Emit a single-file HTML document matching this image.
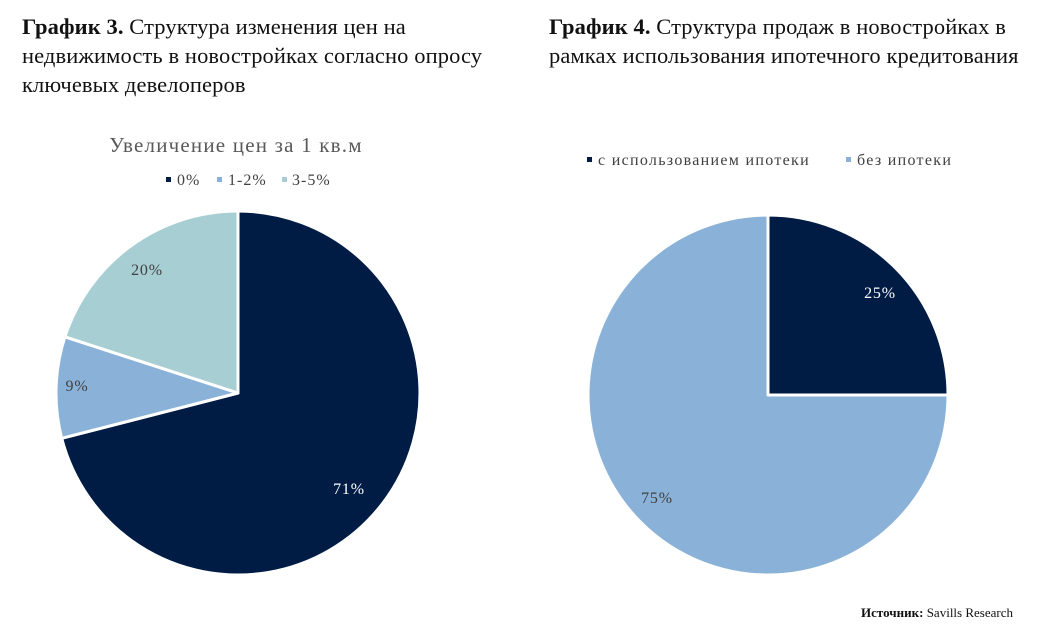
<!DOCTYPE html>
<html><head><meta charset="utf-8"><style>
body{margin:0;background:#fff;width:1043px;height:640px;overflow:hidden;font-family:"Liberation Serif",serif;}
.t{position:absolute;font-size:22.5px;line-height:29px;color:#111;letter-spacing:0.1px}
</style></head><body>
<div class="t" style="left:22px;top:12px;width:510px"><b>График 3.</b> Структура изменения цен на недвижимость в новостройках согласно опросу ключевых девелоперов</div>
<div class="t" style="left:549px;top:12px;width:494px"><b>График 4.</b> Структура продаж в новостройках в рамках использования ипотечного кредитования</div>
<svg width="1043" height="640" style="position:absolute;left:0;top:0" font-family="Liberation Serif, serif">
<text x="236" y="152" font-size="21" letter-spacing="1.2" fill="#595959" text-anchor="middle">Увеличение цен за 1 кв.м</text>
<g font-size="16" fill="#404040" letter-spacing="1">
<rect x="166" y="177" width="5" height="5" fill="#001c44"/><text x="177" y="185">0%</text>
<rect x="217" y="177" width="5" height="5" fill="#8ab2d8"/><text x="228" y="185">1-2%</text>
<rect x="282" y="177" width="5" height="5" fill="#a7cfd3"/><text x="292" y="185">3-5%</text>
</g>
<g stroke="#fff" stroke-width="3" stroke-linejoin="round">
<path d="M238,393 L238,211 A182,182 0 1 1 61.7,438.3 Z" fill="#001c44"/>
<path d="M238,393 L61.7,438.3 A182,182 0 0 1 64.9,336.8 Z" fill="#8ab2d8"/>
<path d="M238,393 L64.9,336.8 A182,182 0 0 1 238,211 Z" fill="#a7cfd3"/>
</g>
<g font-size="16" letter-spacing="0.8">
<text x="349" y="494" fill="#fff" text-anchor="middle">71%</text>
<text x="77" y="391" fill="#404040" text-anchor="middle">9%</text>
<text x="147" y="275" fill="#404040" text-anchor="middle">20%</text>
</g>
<g font-size="16" fill="#404040" letter-spacing="1.3">
<rect x="587" y="157" width="5" height="5" fill="#001c44"/><text x="598" y="165">с использованием ипотеки</text>
<rect x="846" y="157" width="5" height="5" fill="#8ab2d8"/><text x="857" y="165">без ипотеки</text>
</g>
<g stroke="#fff" stroke-width="3" stroke-linejoin="round">
<path d="M768,395 L768,215 A180,180 0 0 1 948,395 Z" fill="#001c44"/>
<path d="M768,395 L948,395 A180,180 0 1 1 768,215 Z" fill="#8ab2d8"/>
</g>
<text x="880" y="298" font-size="16" letter-spacing="0.8" fill="#fff" text-anchor="middle">25%</text>
<text x="657" y="503" font-size="16" letter-spacing="0.8" fill="#404040" text-anchor="middle">75%</text>
<text x="1013" y="617" font-size="13" fill="#111" text-anchor="end"><tspan font-weight="bold">Источник:</tspan> Savills Research</text>
</svg>
</body></html>
